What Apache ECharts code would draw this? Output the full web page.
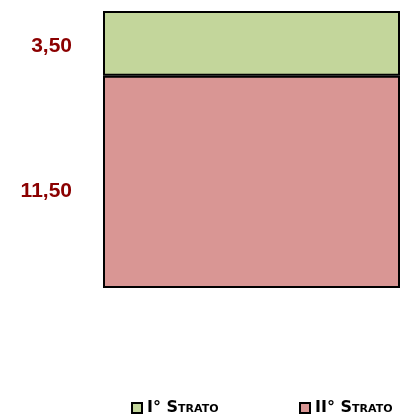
<!DOCTYPE html>
<html>
<head>
<meta charset="utf-8">
<script src="https://cdn.jsdelivr.net/npm/echarts@6/dist/echarts.min.js"></script>
<style>
  html, body { margin: 0; padding: 0; background: #fff; }
  #chart { width: 408px; height: 417px; }
</style>
</head>
<body>
<div id="chart"></div>
<script>
const categories = ['Strati'];
const seriesNames = ['I° Strato', 'II° Strato'];
const strato1 = [3.5];
const strato2 = [11.5];

const chart = echarts.init(document.getElementById('chart'));

const labelDefault = {
  show: true,
  position: 'left',
  distance: 31,
  color: '#8b0000',
  fontFamily: 'Liberation Sans',
  fontWeight: 'bold',
  fontSize: 21,
  formatter: (p) => p.value.toFixed(2).replace('.', ',')
};

const legendDefault = {
  top: 395,
  icon: 'rect',
  itemWidth: 10,
  itemHeight: 10,
  itemGap: 0,
  textStyle: {
    fontFamily: 'DejaVu Sans',
    fontStyle: 'small-caps',
    fontWeight: 'bold',
    fontSize: 16,
    color: '#000'
  }
};

function makeSerie(name, data, color, dy) {
  return {
    name: name,
    type: 'bar',
    stack: 'tot',
    barWidth: '100%',
    data: data,
    label: { ...labelDefault, offset: [0, dy] },
    itemStyle: { color: color, borderColor: '#000', borderWidth: 2 }
  };
}

chart.setOption({
  animation: false,
  grid: { left: 103, right: 8, top: 11, bottom: 129 },
  xAxis: { type: 'category', data: categories, show: false },
  yAxis: { type: 'value', min: 0, max: 15, show: false },
  legend: [
    { ...legendDefault, data: [seriesNames[0]], left: 126 },
    { ...legendDefault, data: [seriesNames[1]], left: 294 }
  ],
  series: [
    makeSerie(seriesNames[1], strato2, '#d99694', 9),
    makeSerie(seriesNames[0], strato1, '#c3d69b', 3)
  ]
});
</script>
</body>
</html>
